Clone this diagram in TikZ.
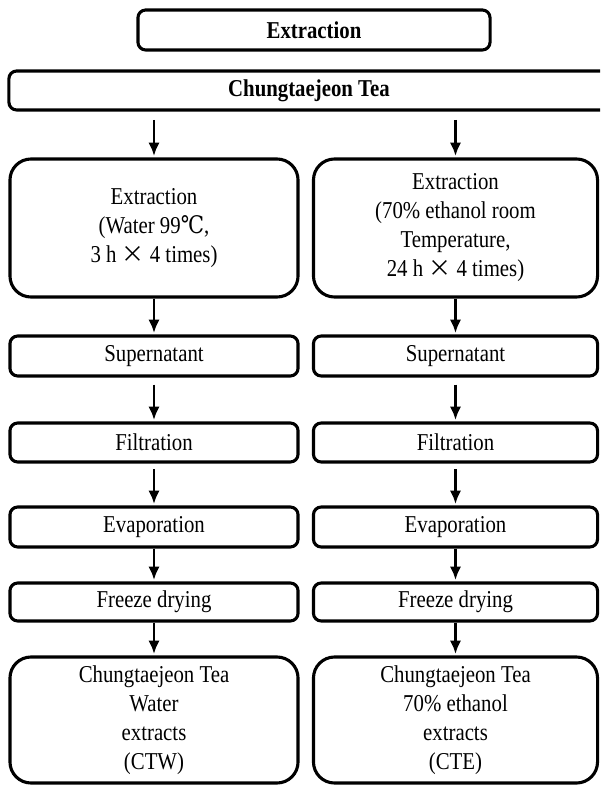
\documentclass[tikz,border=0pt]{standalone}
\usepackage{fontspec}
\setmainfont{Liberation Serif}[FakeStretch=0.86]
\newfontfamily\symfont{DejaVu Serif}[FakeStretch=0.86]
\newfontfamily\cjk{Noto Sans CJK KR}[Scale=0.95]
\usetikzlibrary{arrows.meta}
\tikzset{>={Latex[length=9.5pt,width=8pt]}}
\tikzset{
	stepbox/.style={draw, line width=2.2pt, rounded corners=5.5pt, minimum width=7.2cm, minimum height=1cm, align=center, font=\fontsize{17.2}{20.6}\selectfont},
	bigbox/.style={stepbox, rounded corners=15pt},
	headbox/.style={stepbox, font=\fontsize{17.2}{20.6}\selectfont\bfseries},
	flow/.style={->, line width=2pt, shorten >=1pt}
}
\newcommand{\by}{{\cjk ×}}

\begin{document}
\begin{tikzpicture}[x=.025cm, y=-.025cm]
    \clip(0, 0) rectangle (600, 786);
    \node[headbox, minimum width=8.8cm](title) at (314, 30){Extraction};
    \node[headbox, minimum width=15cm, minimum height=.975cm](tea) at (309, 90.5){Chungtaejeon Tea};
    % water branch
    \node[bigbox, minimum height=3.45cm](lext) at (154, 228){Extraction\\(Water 99{\symfont ℃},\\3 h \by{} 4 times)};
    \node[stepbox](lsup) at (154, 356){Supernatant};
    \node[stepbox, minimum height=.975cm](lfil) at (154, 442.5){Filtration};
    \node[stepbox](levap) at (154, 527){Evaporation};
    \node[stepbox, minimum height=.95cm](lfreeze) at (154, 602){Freeze drying};
    \node[bigbox, minimum height=3.15cm](lout) at (154, 720){Chungtaejeon Tea\\Water\\extracts\\(CTW)};
    % ethanol branch
    \node[bigbox, minimum width=7.1cm, minimum height=3.45cm](rext) at (455.5, 228){Extraction\\(70\% ethanol room\\Temperature,\\24 h \by{} 4 times)};
    \node[stepbox, minimum width=7.1cm](rsup) at (455.5, 356){Supernatant};
    \node[stepbox, minimum width=7.1cm, minimum height=.975cm](rfil) at (455.5, 442.5){Filtration};
    \node[stepbox, minimum width=7.1cm](revap) at (455.5, 527){Evaporation};
    \node[stepbox, minimum width=7.1cm, minimum height=.95cm](rfreeze) at (455.5, 602){Freeze drying};
    \node[bigbox, minimum width=7.1cm, minimum height=3.15cm](rout) at (455.5, 720){Chungtaejeon Tea\\70\% ethanol\\extracts\\(CTE)};
    \draw[flow, shorten <=6pt](lext |- tea.south)--(lext);
    \draw[flow, shorten <=6pt](rext |- tea.south)--(rext);
    \foreach \c in {l, r}
        \foreach \a/\b/\g in {ext/sup/0, sup/fil/5, fil/evap/4, evap/freeze/0, freeze/out/0}
            \draw[flow, shorten <=\g pt](\c\a)--(\c\b);
\end{tikzpicture}
\end{document}
